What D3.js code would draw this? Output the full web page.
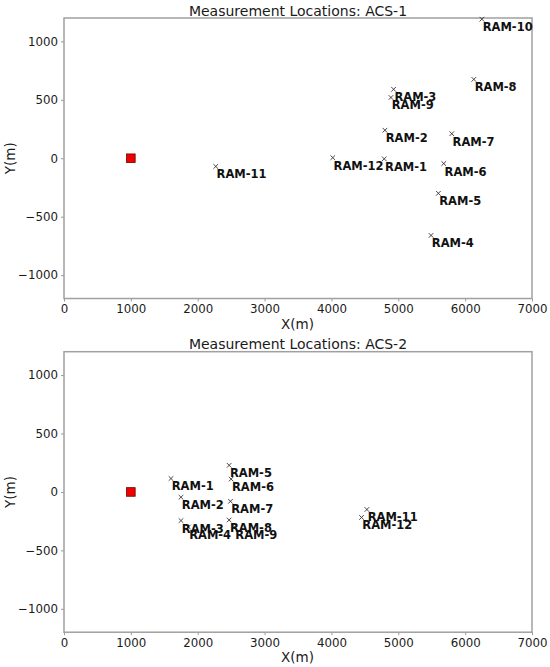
<!DOCTYPE html>
<html>
<head>
<meta charset="utf-8">
<script src="https://cdn.jsdelivr.net/npm/d3@7"></script>
<style>
  body { margin: 0; background: #fff; }
  text { font-family: "DejaVu Sans", sans-serif; }
</style>
</head>
<body>
<div id="chart"></div>
<script>
// source position (red square)
var sourceX = 1000, sourceY = 0;

// ACS-1 receiver locations
var acs1Names = ["RAM-1","RAM-2","RAM-3","RAM-4","RAM-5","RAM-6","RAM-7","RAM-8","RAM-9","RAM-10","RAM-11","RAM-12"];
var acs1X = [4790, 4800, 4930, 5490, 5600, 5680, 5800, 6130, 4890, 6250, 2270, 4020];
var acs1Y = [-5, 240, 590, -660, -300, -45, 210, 675, 520, 1190, -70, 5];

// ACS-2 receiver locations
var acs2Names = ["RAM-1","RAM-2","RAM-3","RAM-4","RAM-5","RAM-6","RAM-7","RAM-8","RAM-9","RAM-11","RAM-12"];
var acs2X = [1600, 1750, 1750, 1860, 2470, 2500, 2490, 2470, 2550, 4530, 4450];
var acs2Y = [115, -45, -245, -300, 228, 110, -80, -240, -300, -150, -218];

var xTicks = [0, 1000, 2000, 3000, 4000, 5000, 6000, 7000];
var yTicks = [-1000, -500, 0, 500, 1000];

var W = 550, H = 667;
var svg = d3.select("#chart").append("svg")
    .attr("width", W)
    .attr("height", H);

function drawPanel(top, title, names, xs, ys) {
    var left = 64, plotW = 468, plotH = 280.5;

    var xScale = d3.scaleLinear().domain([0, 7000]).range([0, plotW]);
    var yScale = d3.scaleLinear().domain([-1200, 1200]).range([plotH, 0]);

    var g = svg.append("g")
        .attr("transform", "translate(" + left + "," + top + ")");

    // axes
    var xAxis = g.append("g")
        .attr("transform", "translate(0," + plotH + ")")
        .call(d3.axisBottom(xScale).tickValues(xTicks).tickSize(3).tickPadding(3)
              .tickFormat(d3.format("d")));
    var yAxis = g.append("g")
        .call(d3.axisLeft(yScale).tickValues(yTicks).tickSize(3).tickPadding(3)
              .tickFormat(function(d) { return d < 0 ? "\u2212" + Math.abs(d) : d; }));

    [xAxis, yAxis].forEach(function(a) {
        a.select(".domain").remove();
        a.selectAll("line").attr("stroke", "#999");
        a.selectAll("text")
            .attr("fill", "#1a1a1a")
            .style("font-size", "11.8px")
            .style("font-family", "DejaVu Sans");
    });

    // frame
    g.append("rect")
        .attr("width", plotW)
        .attr("height", plotH)
        .attr("fill", "none")
        .attr("stroke", "#a0a0a0")
        .attr("stroke-width", 1.5);

    // title and axis labels
    g.append("text")
        .attr("x", plotW / 2)
        .attr("y", -2.5)
        .attr("text-anchor", "middle")
        .attr("fill", "#1a1a1a")
        .style("font-size", "14px")
        .text(title);
    g.append("text")
        .attr("x", plotW / 2 - 0.5)
        .attr("y", plotH + 30)
        .attr("text-anchor", "middle")
        .attr("fill", "#1a1a1a")
        .style("font-size", "13.5px")
        .text("X(m)");
    g.append("text")
        .attr("transform", "translate(" + (15 - left) + "," + (plotH / 2) + ") rotate(-90)")
        .attr("text-anchor", "middle")
        .attr("fill", "#1a1a1a")
        .style("font-size", "13.5px")
        .text("Y(m)");

    // source
    g.append("rect")
        .attr("x", xScale(sourceX) - 4.3)
        .attr("y", yScale(sourceY) - 4.3)
        .attr("width", 8.6)
        .attr("height", 8.6)
        .attr("fill", "#f00000")
        .attr("stroke", "#6b0000")
        .attr("stroke-width", 0.8);

    var pts = names.map(function(n, i) { return {name: n, x: xs[i], y: ys[i]}; });

    // x markers
    var s = 2.3;
    g.selectAll(".mk")
        .data(pts)
        .enter().append("path")
        .attr("class", "mk")
        .attr("d", function(d) {
            var cx = xScale(d.x), cy = yScale(d.y);
            return "M" + (cx - s) + "," + (cy - s) + "L" + (cx + s) + "," + (cy + s) +
                   "M" + (cx - s) + "," + (cy + s) + "L" + (cx + s) + "," + (cy - s);
        })
        .attr("stroke", "#333")
        .attr("stroke-width", 0.9)
        .attr("fill", "none");

    // labels
    g.selectAll(".lbl")
        .data(pts)
        .enter().append("text")
        .attr("class", "lbl")
        .attr("x", function(d) { return xScale(d.x) + 0.8; })
        .attr("y", function(d) { return yScale(d.y) + 12; })
        .attr("fill", "#111")
        .style("font-size", "11.5px")
        .style("font-weight", "bold")
        .text(function(d) { return d.name; });
}

drawPanel(18, "Measurement Locations: ACS-1", acs1Names, acs1X, acs1Y);
drawPanel(351.7, "Measurement Locations: ACS-2", acs2Names, acs2X, acs2Y);
</script>
</body>
</html>
